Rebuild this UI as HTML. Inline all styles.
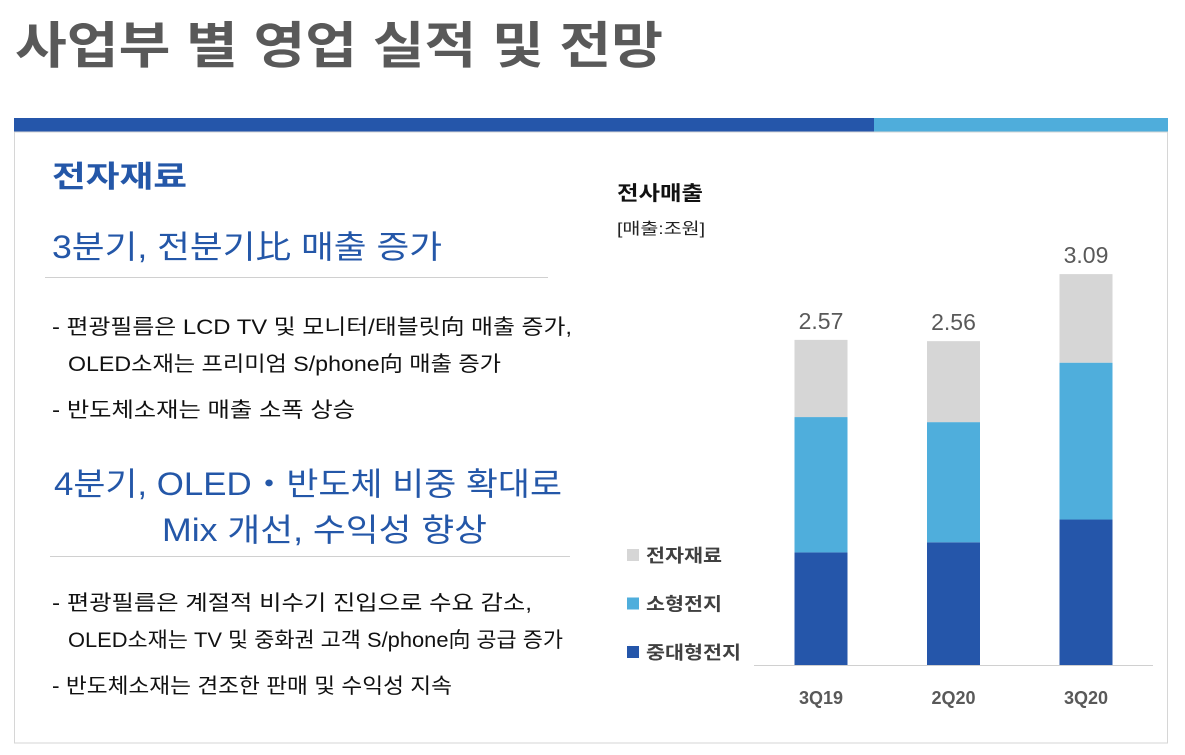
<!DOCTYPE html>
<html><head><meta charset="utf-8"><style>
body{margin:0;background:#fff;width:1185px;height:755px;overflow:hidden}
svg{display:block}
text{font-family:"Liberation Sans","Noto Sans CJK KR",sans-serif}
</style></head><body>
<svg id="s" width="1185" height="755" xmlns="http://www.w3.org/2000/svg">
<text x="15" y="63" font-size="50" font-weight="bold" fill="#595959" textLength="648" lengthAdjust="spacingAndGlyphs">사업부 별 영업 실적 및 전망</text>
<rect x="14" y="118" width="860" height="14" fill="#2556AA"/>
<rect x="874" y="118" width="294" height="14" fill="#4FADDB"/>
<rect x="14.5" y="132" width="1153" height="611" fill="none" stroke="#d6d6d6"/>
<text x="52" y="187" font-size="30" font-weight="bold" fill="#2457A8" textLength="135" lengthAdjust="spacingAndGlyphs">전자재료</text>
<text x="52" y="258" font-size="32" fill="#2457A8" textLength="390" lengthAdjust="spacingAndGlyphs">3분기, 전분기比 매출 증가</text>
<line x1="45" y1="277.5" x2="548" y2="277.5" stroke="#d0d0d0"/>
<g font-size="21" fill="#111">
<text x="52" y="334" textLength="520" lengthAdjust="spacingAndGlyphs">- 편광필름은 LCD TV 및 모니터/태블릿向 매출 증가,</text>
<text x="68" y="371" textLength="433" lengthAdjust="spacingAndGlyphs">OLED소재는 프리미엄 S/phone向 매출 증가</text>
<text x="52" y="417" textLength="303" lengthAdjust="spacingAndGlyphs">- 반도체소재는 매출 소폭 상승</text>
</g>
<text x="54" y="495" font-size="32" fill="#2457A8" textLength="508" lengthAdjust="spacingAndGlyphs">4분기, OLED・반도체 비중 확대로</text>
<text x="162" y="541" font-size="32" fill="#2457A8" textLength="325" lengthAdjust="spacingAndGlyphs">Mix 개선, 수익성 향상</text>
<line x1="50" y1="556.5" x2="570" y2="556.5" stroke="#d0d0d0"/>
<g font-size="21" fill="#111">
<text x="52" y="610" textLength="480" lengthAdjust="spacingAndGlyphs">- 편광필름은 계절적 비수기 진입으로 수요 감소,</text>
<text x="68" y="647" textLength="495" lengthAdjust="spacingAndGlyphs">OLED소재는 TV 및 중화권 고객 S/phone向 공급 증가</text>
<text x="52" y="693" textLength="400" lengthAdjust="spacingAndGlyphs">- 반도체소재는 견조한 판매 및 수익성 지속</text>
</g>
<text x="617" y="200" font-size="20" font-weight="bold" fill="#111" textLength="86" lengthAdjust="spacingAndGlyphs">전사매출</text>
<text x="617" y="234" font-size="16" fill="#222" textLength="88" lengthAdjust="spacingAndGlyphs">[매출:조원]</text>
<line x1="754" y1="665.5" x2="1153" y2="665.5" stroke="#d0d0d0"/>
<g id="legend"></g>
<g id="bars"></g>
</svg>
<script>
const categories=["3Q19","2Q20","3Q20"];
const midLarge=[0.89,0.97,1.15];
const small=[1.07,0.95,1.24];
const elec=[0.61,0.64,0.70];
const totals=["2.57","2.56","3.09"];
const seriesNames=["전자재료","소형전지","중대형전지"];
const NS="http://www.w3.org/2000/svg";
const s=document.getElementById('bars');
const base=665,scale=126.5;
const xc=i=>821+i*132.5;
const y=v=>base-v*scale;
function mk(t,a){const e=document.createElementNS(NS,t);for(const k in a)e.setAttribute(k,a[k]);return e;}
const cols=["#2556AA","#4FAEDC","#D6D6D6"];
categories.forEach((c,i)=>{
  const vals=[midLarge[i],small[i],elec[i]];let acc=0;
  vals.forEach((v,j)=>{
    const r=mk('rect',{x:xc(i)-26.5,y:y(acc+v),width:53,height:v*scale,fill:cols[j]});
    
    
    s.appendChild(r);acc+=v;
  });
  const t=mk('text',{x:xc(i),y:y(acc)-11,'text-anchor':'middle','font-size':23,fill:'#595959'});
  t.textContent=totals[i];
  
  
  s.appendChild(t);
  const l=mk('text',{x:xc(i),y:704,'text-anchor':'middle','font-size':18,'font-weight':'bold',fill:'#595959'});
  l.textContent=c;
  
  
  s.appendChild(l);
});
const lg=document.getElementById('legend');
const lcol=["#D6D6D6","#4FAEDC","#2556AA"];
const lw=[76,76,95];
seriesNames.forEach((n,i)=>{
  const yy=555+i*48.5;
  const r=mk('rect',{x:627,y:yy-6,width:12,height:12,fill:lcol[i]});
  
  
  lg.appendChild(r);
  const t=mk('text',{x:646,y:yy+7,'font-size':18,'font-weight':'bold',fill:'#404040',textLength:lw[i],lengthAdjust:'spacingAndGlyphs'});
  t.textContent=n;
  
  
  lg.appendChild(t);
});
</script>
</body></html>
